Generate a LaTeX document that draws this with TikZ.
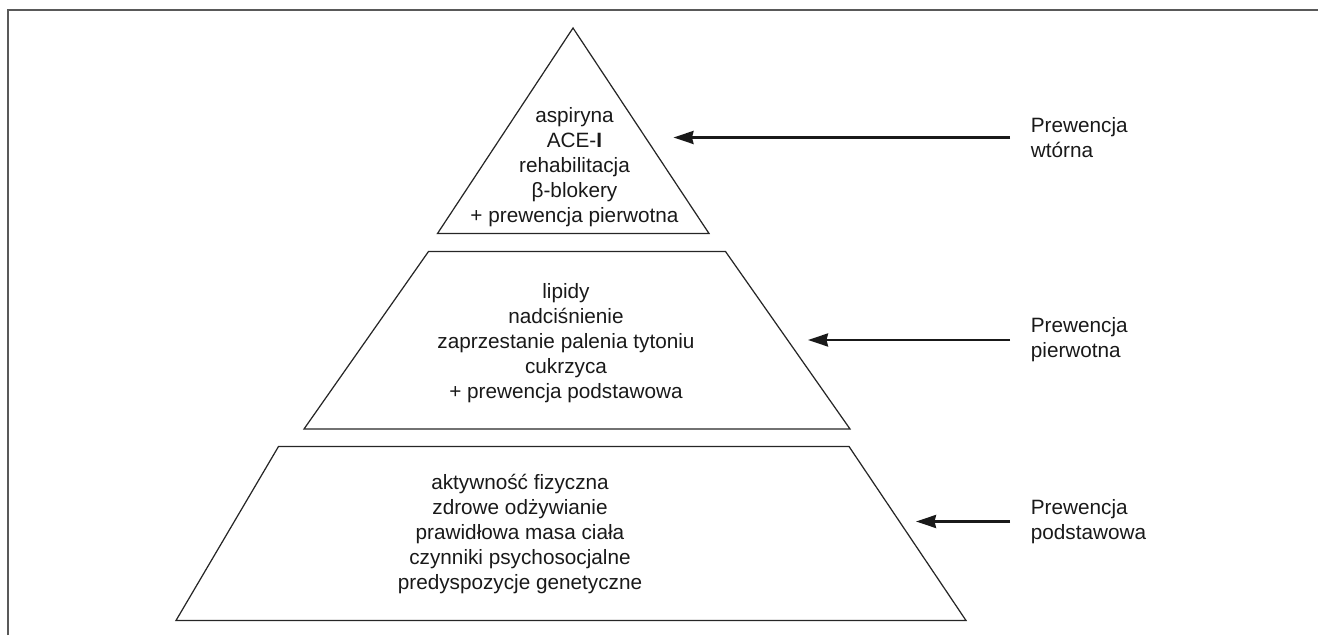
\documentclass[tikz,border=0pt]{standalone}
\usepackage{fontspec}
\setmainfont{Liberation Sans}
\usetikzlibrary{arrows.meta, positioning}

\begin{document}
\begin{tikzpicture}[
        poziom/.style={draw=black!85, line width=0.7pt, line join=miter},
        opis/.style={align=center, text=black!90, inner sep=0pt,
                     font=\fontsize{11.8pt}{14.2pt}\selectfont},
        etykieta/.style={opis, align=left, anchor=west},
        strzalka/.style={-{Stealth[length=4mm, width=2.6mm, inset=0.3mm]}, line width=1.4pt,
                         color=black!90, shorten <=0.41cm},
        ramka/.style={draw=black!65, line width=1.2pt}
    ]
    \useasboundingbox (0,0) rectangle (26.36,12.70);
    % ramka
    \draw[ramka] (0.16,0) -- (0.16,12.50) -- (26.36,12.50);
    % Piramida: trzy poziomy
    \draw[poziom] (11.46,12.14) -- (14.18,8.03) -- (8.75,8.03) -- cycle;
    \draw[poziom] (8.57,7.67) -- (14.51,7.67) -- (17.00,4.12) -- (6.08,4.12) -- cycle;
    \draw[poziom] (5.57,3.77) -- (16.98,3.77) -- (19.32,0.29) -- (3.52,0.29) -- cycle;
    \node[opis] (wtorna) at (11.49,9.35) {aspiryna\\ ACE-\textbf{I}\\ rehabilitacja\\
        β-blokery\\ + prewencja pierwotna};
    \node[opis] (pierwotna) at (11.32,5.83) {lipidy\\ nadciśnienie\\ zaprzestanie palenia tytoniu\\
        cukrzyca\\ + prewencja podstawowa};
    \node[opis] (podstawowa) at (10.40,2.02) {aktywność fizyczna\\ zdrowe odżywianie\\
        prawidłowa masa ciała\\ czynniki psychosocjalne\\ predyspozycje genetyczne};
    % Etykiety po prawej
    \node[etykieta] (etwtorna) at (20.61,9.95) {Prewencja\\ wtórna};
    \node[etykieta] (etpierwotna) at (20.61,5.90) {Prewencja\\ pierwotna};
    \node[etykieta] (etpodstawowa) at (20.61,2.27) {Prewencja\\ podstawowa};
    \coordinate (grotwtorna) at (13.47,9.95);
    \coordinate (grotpierwotna) at (16.16,5.90);
    \coordinate (grotpodstawowa) at (18.32,2.27);

    \draw[strzalka] (etwtorna) -- (grotwtorna);
    \draw[strzalka] (etpierwotna) -- (grotpierwotna);
    \draw[strzalka] (etpodstawowa) -- (grotpodstawowa);
\end{tikzpicture}
\end{document}
